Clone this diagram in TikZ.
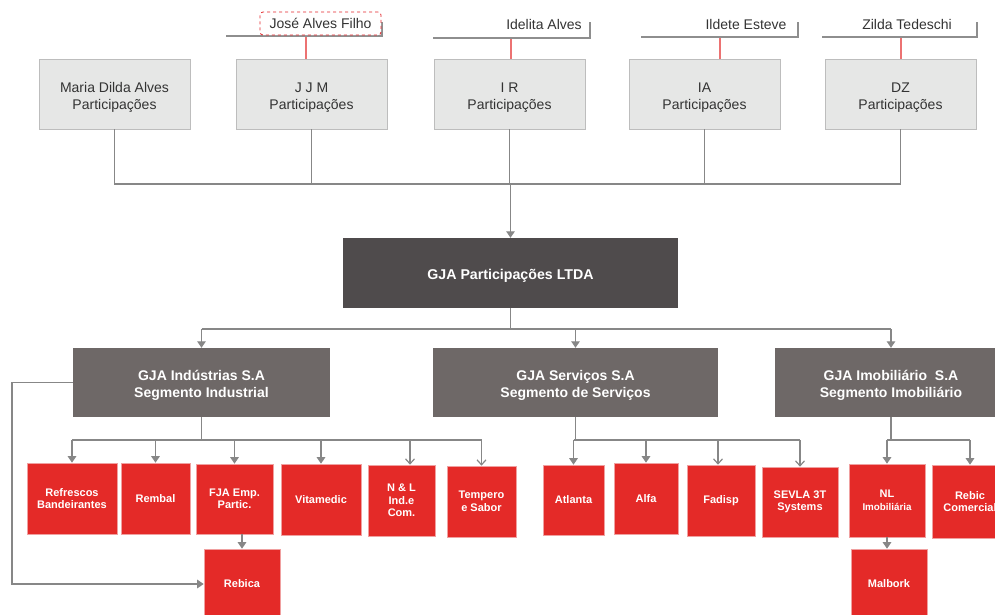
\documentclass[tikz,border=0pt]{standalone}
\usepackage{fontspec}
\setmainfont{Liberation Sans}
\usetikzlibrary{arrows.meta}
\definecolor{boxgray}{HTML}{E6E7E6}
\definecolor{boxedge}{HTML}{BDBDBD}
\definecolor{darkbox}{HTML}{4F4B4C}
\definecolor{segbox}{HTML}{6E6867}
\definecolor{redbox}{HTML}{E42A28}
\definecolor{rededge}{HTML}{F0A0A0}
\definecolor{linegray}{HTML}{878787}
\definecolor{brackgray}{HTML}{8E8E8E}
\definecolor{redline}{HTML}{EC7272}
\definecolor{dashred}{HTML}{E4262B}
\definecolor{txtdark}{HTML}{333333}
\newcommand{\lowr}{\rule{0pt}{16pt}}
\tikzset{
  conn/.style={draw=linegray, line width=1.2pt},
  farrow/.style={conn, -{Triangle[length=6.5pt,width=8.5pt]}},
  oarrow/.style={conn, -{Straight Barb[length=5pt,width=9pt]}},
  bracket/.style={draw=brackgray, line width=1.5pt},
  redconn/.style={draw=redline, line width=1.1pt},
  topbox/.style={rectangle, fill=boxgray, draw=boxedge, line width=0.9pt, inner sep=0pt,
    minimum height=70pt, minimum width=151pt, align=center,
    font=\fontsize{14}{17}\selectfont, text=txtdark},
  nametext/.style={inner sep=0pt, font=\fontsize{14}{17}\selectfont, text=txtdark},
  namebox/.style={nametext, draw=dashred, dashed, rounded corners=3pt, fill=white,
    line width=0.8pt, minimum width=121pt, minimum height=23pt},
  mainbox/.style={rectangle, fill=darkbox, inner sep=0pt, text=white, align=center,
    font=\bfseries\fontsize{14.2}{17}\selectfont},
  segstyle/.style={rectangle, fill=segbox, inner sep=0pt, text=white, align=center,
    minimum height=69pt, font=\bfseries\fontsize{14}{17}\selectfont},
  redstyle/.style={rectangle, fill=redbox, draw=rededge, line width=0.6pt, inner sep=0pt,
    text=white, align=center, font=\bfseries\fontsize{11}{12.5}\selectfont},
}
\begin{document}
\begin{tikzpicture}[x=1pt, y=-1pt]
\path[use as bounding box, clip] (0,0) rectangle (995,614);

% owners
\coordinate (b1l) at (226,36); \coordinate (b1r) at (382,36); \coordinate (b1t) at (382,22);
\coordinate (b2l) at (433,38); \coordinate (b2r) at (590,38); \coordinate (b2t) at (590,22);
\coordinate (b3l) at (641,37); \coordinate (b3r) at (798,37); \coordinate (b3t) at (798,22);
\coordinate (b4l) at (822,37); \coordinate (b4r) at (977,37); \coordinate (b4t) at (977,22);
\draw[bracket] (b1l) -- (b1r) -- (b1t);
\draw[bracket] (b2l) -- (b2r) -- (b2t);
\draw[bracket] (b3l) -- (b3r) -- (b3t);
\draw[bracket] (b4l) -- (b4r) -- (b4t);
\node[namebox] (n1) at (320.5,23.5) {José Alves Filho};
\node[nametext] (n2) at (544,24) {Idelita Alves};
\node[nametext] (n3) at (746,24) {Ildete Esteve};
\node[nametext] (n4) at (907,24) {Zilda Tedeschi};

% holding companies
\node[topbox] (p1) at (114.5,94) {\lowr Maria Dilda Alves\\Participações};
\node[topbox] (p2) at (311.5,94) {\lowr J J M\\Participações};
\node[topbox] (p3) at (509.5,94) {\lowr I R\\Participações};
\node[topbox] (p4) at (704.5,94) {\lowr IA\\Participações};
\node[topbox] (p5) at (900.5,94) {\lowr DZ\\Participações};

\coordinate (r1) at (306,37); \coordinate (r2) at (511,39);
\coordinate (r3) at (720,38); \coordinate (r4) at (901,38);
\draw[redconn] (r1) -- (r1 |- p2.north);
\draw[redconn] (r2) -- (r2 |- p3.north);
\draw[redconn] (r3) -- (r3 |- p4.north);
\draw[redconn] (r4) -- (r4 |- p5.north);

% main
\node[mainbox, minimum width=335pt, minimum height=70pt] (gja) at (510.5,273) {\lowr GJA Participações LTDA};
\coordinate (bus1) at (510.5,184);
\draw[conn] (p1.south) |- (bus1) -| (p5.south);
\draw[conn] (p2.south) -- (p2.south |- bus1);
\draw[conn] (p3.south) -- (p3.south |- bus1);
\draw[conn] (p4.south) -- (p4.south |- bus1);
\draw[farrow] (bus1) -- (gja.north);

% segments
\node[segstyle, minimum width=257pt] (ind) at (201.5,382.5) {\lowr GJA Indústrias S.A\\Segmento Industrial};
\node[segstyle, minimum width=285pt] (serv) at (575.5,382.5) {\lowr GJA Serviços S.A\\Segmento de Serviços};
\node[segstyle, minimum width=232pt] (imob) at (891,382.5) {\lowr GJA Imobiliário\ \ S.A\\Segmento Imobiliário};
\coordinate (bus2) at (510.5,329);
\draw[conn] (gja.south) -- (bus2);
\draw[conn] (ind.north |- bus2) -- (imob.north |- bus2);
\draw[farrow] (ind.north |- bus2) -- (ind.north);
\draw[farrow] (serv.north |- bus2) -- (serv.north);
\draw[farrow] (imob.north |- bus2) -- (imob.north);

% industrial children
\node[redstyle, minimum width=90pt, minimum height=71pt] (c1) at (72,498.5) {Refrescos\\Bandeirantes};
\node[redstyle, minimum width=69pt, minimum height=71pt] (c2) at (155.5,498.5) {Rembal};
\node[redstyle, minimum width=77pt, minimum height=70pt] (c3) at (234.5,499) {FJA Emp.\\Partic.};
\node[redstyle, minimum width=80pt, minimum height=71pt] (c4) at (321,499.5) {Vitamedic};
\node[redstyle, minimum width=67pt, minimum height=71pt] (c5) at (401.5,500.5) {N \& L\\Ind.e\\Com.};
\node[redstyle, minimum width=69pt, minimum height=71pt] (c6) at (481.5,501.5) {Tempero\\e Sabor};
\node[redstyle, minimum width=76pt, minimum height=70pt] (reb) at (242,584) {Rebica};
\coordinate (bus3) at (201.5,440);
\coordinate (nlarr) at (410,440);
\draw[conn] (ind.south) -- (bus3);
\draw[conn] (c1.north |- bus3) -- (c6.north |- bus3);
\draw[farrow] (c1.north |- bus3) -- (c1.north);
\draw[farrow] (c2.north |- bus3) -- (c2.north);
\draw[farrow] (c3.north |- bus3) -- (c3.north);
\draw[farrow] (c4.north |- bus3) -- (c4.north);
\draw[oarrow] (nlarr) -- (nlarr |- c5.north);
\draw[oarrow] (c6.north |- bus3) -- (c6.north);
\draw[farrow] (reb.north |- c3.south) -- (reb.north);
\coordinate (loop) at (12,584);
\draw[farrow] (ind.west) -| (loop) -- (reb.west);

% services children
\node[redstyle, minimum width=61pt, minimum height=70pt] (s1) at (573.5,500) {Atlanta};
\node[redstyle, minimum width=64pt, minimum height=71pt] (s2) at (646,498.5) {Alfa};
\node[redstyle, minimum width=68pt, minimum height=71pt] (s3) at (721,500.5) {Fadisp};
\node[redstyle, minimum width=76pt, minimum height=70pt] (s4) at (800,502) {SEVLA 3T\\Systems};
\coordinate (bus4) at (575.5,440);
\coordinate (fdarr) at (718,440);
\draw[conn] (serv.south) -- (bus4);
\draw[conn] (s1.north |- bus4) -- (s4.north |- bus4);
\draw[farrow] (s1.north |- bus4) -- (s1.north);
\draw[farrow] (s2.north |- bus4) -- (s2.north);
\draw[oarrow] (fdarr) -- (fdarr |- s3.north);
\draw[oarrow] (s4.north |- bus4) -- (s4.north);

% real estate children
\node[redstyle, minimum width=76pt, minimum height=73pt] (i1) at (887,500.5) {NL\\{\fontsize{9.8}{12}\selectfont Imobiliária}};
\node[redstyle, minimum width=76pt, minimum height=73pt] (i2) at (970,501.5) {Rebic\\Comercial};
\node[redstyle, minimum width=76pt, minimum height=70pt] (mal) at (889,584) {Malbork};
\coordinate (bus5) at (891,440);
\draw[conn] (imob.south) -- (bus5);
\draw[conn] (i1.north |- bus5) -- (i2.north |- bus5);
\draw[farrow] (i1.north |- bus5) -- (i1.north);
\draw[farrow] (i2.north |- bus5) -- (i2.north);
\draw[farrow] (i1.south) -- (i1.south |- mal.north);
\end{tikzpicture}
\end{document}
